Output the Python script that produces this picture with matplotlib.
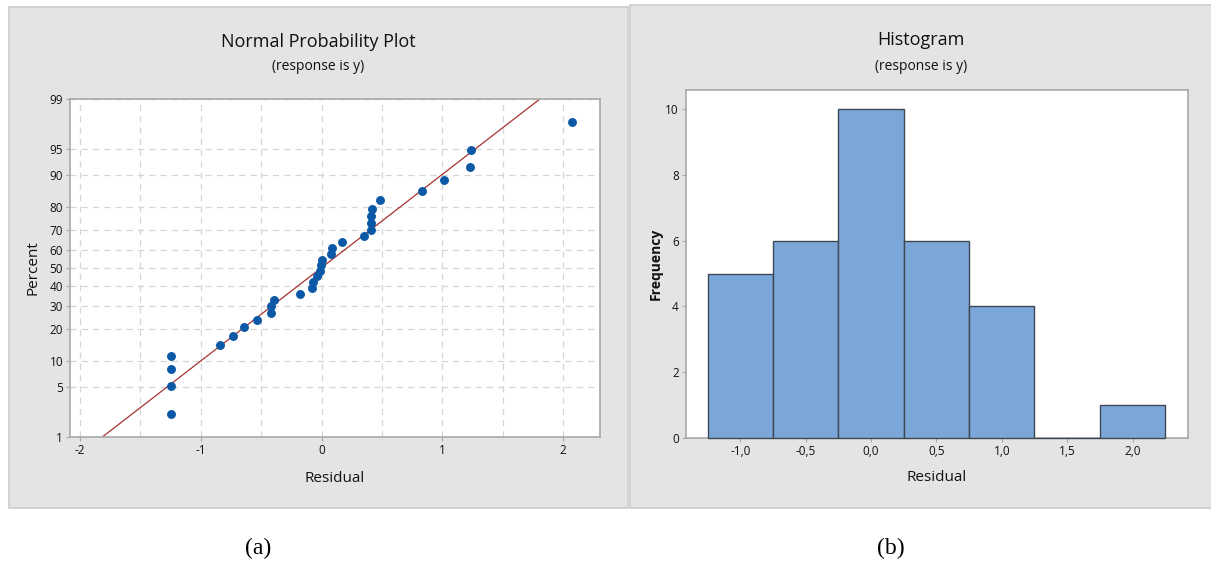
import matplotlib
matplotlib.use("Agg")
import matplotlib.pyplot as plt
from matplotlib.patches import Rectangle
from statistics import NormalDist, mean, stdev

# residuals (sorted)
residuals = [-1.245, -1.245, -1.245, -1.245, -0.84, -0.73, -0.64, -0.535,
             -0.42, -0.415, -0.39, -0.175, -0.08, -0.07, -0.035, -0.015,
             -0.005, 0.005, 0.075, 0.09, 0.17, 0.35, 0.41, 0.41,
             0.41, 0.42, 0.48, 0.83, 1.01, 1.23, 1.24, 2.07]
percents = [2.2, 5.2, 8.3, 11.4, 14.5, 17.6, 20.7, 23.8,
            26.9, 29.9, 33.0, 36.1, 39.2, 42.3, 45.4, 48.5,
            51.5, 54.6, 57.7, 60.8, 63.9, 67.0, 70.1, 73.1,
            76.2, 79.3, 82.4, 85.5, 88.6, 91.7, 94.8, 97.8]
pct_ticks = [1, 5, 10, 20, 30, 40, 50, 60, 70, 80, 90, 95, 99]
res_ticks = [-2, -1, 0, 1, 2]
res_grid = [-2, -1.5, -1, -0.5, 0, 0.5, 1, 1.5, 2]

# histogram
bin_centers = [-1.0, -0.5, 0.0, 0.5, 1.0, 1.5, 2.0]
counts = [5, 6, 10, 6, 4, 0, 1]
bin_labels = ["-1,0", "-0,5", "0,0", "0,5", "1,0", "1,5", "2,0"]
freq_ticks = [0, 2, 4, 6, 8, 10]

W, H = 1211, 564
plt.rcParams['font.family'] = ['Open Sans', 'DejaVu Sans']
txt = '#111111'
spine_c = '#a8a8a8'
grid_c = '#d6d6d6'


def box(x0, y0, x1, y1):
    # pixel box (top-left origin) -> figure rect
    return [x0 / W, 1 - y1 / H, (x1 - x0) / W, (y1 - y0) / H]


fig = plt.figure(figsize=(W / 100, H / 100), dpi=100)
fig.patch.set_facecolor('white')

for x0, y0, x1, y1 in [(9, 7, 628, 508), (630, 5, 1212, 508)]:
    fig.add_artist(Rectangle((x0 / W, 1 - y1 / H), (x1 - x0) / W, (y1 - y0) / H,
                             transform=fig.transFigure, fc='#e4e4e4', ec='#cccccc',
                             lw=1.2, zorder=-10))


def style_axes(ax):
    for s in ax.spines.values():
        s.set_color(spine_c)
        s.set_linewidth(1.2)
    ax.tick_params(direction='out', length=3, width=0.8, color=spine_c,
                   labelsize=8.5, labelcolor=txt, pad=2)


# ---- (a) normal probability plot
nd = NormalDist()
ax1 = fig.add_axes(box(70, 99, 600, 437))
style_axes(ax1)
zlo, zhi = nd.inv_cdf(0.01), nd.inv_cdf(0.99)
ax1.set_ylim(zlo, zhi)
ax1.set_xlim(-2.083, 2.305)
ax1.set_yticks([nd.inv_cdf(p / 100) for p in pct_ticks])
ax1.set_yticklabels([str(p) for p in pct_ticks])
ax1.set_xticks(res_ticks)
ax1.set_xticklabels([str(t) for t in res_ticks])
for g in res_grid:
    ax1.axvline(g, color=grid_c, ls=(0, (5, 4)), lw=0.9, zorder=0)
ax1.grid(True, which='major', axis='y', color=grid_c, ls=(0, (5, 4)), lw=0.9)
ax1.set_axisbelow(True)

mu, sd = mean(residuals), stdev(residuals)
ax1.plot([mu + sd * zlo, mu + sd * zhi], [zlo, zhi], color='#a83232', lw=0.9, zorder=2)
ax1.plot(residuals, [nd.inv_cdf(p / 100) for p in percents], 'o',
         color='#0b58a6', ms=5.4, mec='#0b58a6', zorder=3)
ax1.set_xlabel('Residual', fontsize=11, color=txt, labelpad=10)
ax1.set_ylabel('Percent', fontsize=11, color=txt, labelpad=6.5)

fig.text(318.5 / W, 1 - 42 / H, 'Normal Probability Plot', ha='center', va='center',
         fontsize=13, color=txt, fontweight='medium')
fig.text(318.5 / W, 1 - 67 / H, '(response is y)', ha='center', va='center',
         fontsize=10, color=txt)

# ---- (b) histogram
ax2 = fig.add_axes(box(685.7, 90, 1188.3, 437.7))
style_axes(ax2)
ax2.bar(bin_centers, counts, width=0.5, color='#7ba7d8', edgecolor='#3e4853', lw=1.0,
        zorder=3, clip_on=False)
ax2.set_xlim(-1.417, 2.426)
ax2.set_ylim(0, 10.59)
ax2.set_xticks(bin_centers)
ax2.set_xticklabels(bin_labels)
ax2.set_yticks(freq_ticks)
ax2.set_xlabel('Residual', fontsize=11, color=txt, labelpad=9)
ax2.set_ylabel('Frequency', fontsize=10, color=txt, labelpad=2, fontweight='bold')

fig.text(921 / W, 1 - 40 / H, 'Histogram', ha='center', va='center', fontsize=13,
         color=txt, fontweight='medium')
fig.text(921 / W, 1 - 67 / H, '(response is y)', ha='center', va='center',
         fontsize=10, color=txt)

# captions
for cx, lab in [(258, '(a)'), (891, '(b)')]:
    fig.text(cx / W, 1 - 548 / H, lab, ha='center', va='center', fontsize=17,
             family=['Liberation Serif', 'DejaVu Serif'], color='black')

fig.savefig('out.png', dpi=100)
